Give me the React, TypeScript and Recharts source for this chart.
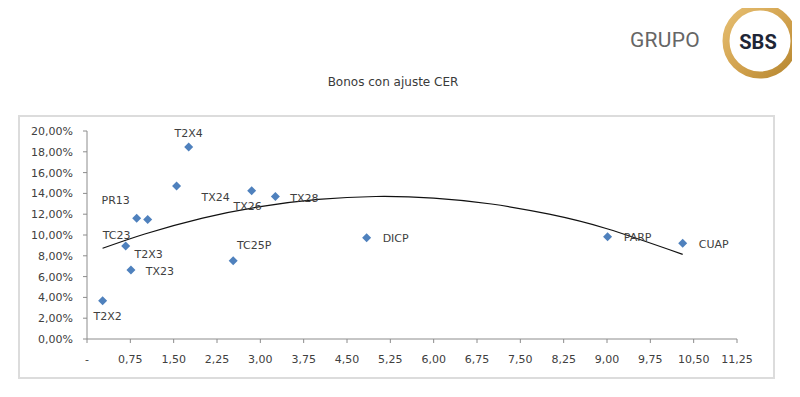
import { ComposedChart, Scatter, Line, XAxis, YAxis } from 'recharts'

// Bonos CER: duración (x) vs TIR % (y)
const bondNames = ['T2X2', 'T2X3', 'TX23', 'TC23', 'PR13', 'TX24', 'T2X4', 'TC25P', 'TX26', 'TX28', 'DICP', 'PARP', 'CUAP']
const duration = [0.27, 0.67, 0.76, 0.86, 1.05, 1.55, 1.76, 2.53, 2.85, 3.26, 4.84, 9.01, 10.31]
const yieldPct = [3.68, 8.94, 6.63, 11.6, 11.5, 14.7, 18.46, 7.53, 14.26, 13.7, 9.74, 9.84, 9.2]

// tendencia polinómica
const trendX = [0.27, 1, 2, 3, 4, 5, 6, 7, 8, 9, 10.31]
const trendY = [8.72, 10.1, 11.63, 12.73, 13.42, 13.7, 13.55, 12.98, 12.0, 10.6, 8.14]

const xTicks = [0, 0.75, 1.5, 2.25, 3, 3.75, 4.5, 5.25, 6, 6.75, 7.5, 8.25, 9, 9.75, 10.5, 11.25]
const yTicks = [0, 2, 4, 6, 8, 10, 12, 14, 16, 18, 20]

// label offsets relative to each marker (dx, dy)
const labelPos: Record<string, [number, number]> = {
  T2X2: [5, 16], T2X3: [23, 8], TX23: [29, 1], TC23: [-20, 17], PR13: [-32, -19],
  TX24: [39, 11], T2X4: [0, -14], TC25P: [21, -15], TX26: [-4, 16], TX28: [29, 2],
  DICP: [29, 1], PARP: [30, 1], CUAP: [31, 1],
}

const bonds = bondNames.map((name, i) => ({ name, x: duration[i], y: yieldPct[i] }))
const trend = trendX.map((x, i) => ({ x, y: trendY[i] }))

const FONT = '"DejaVu Sans", Verdana, sans-serif'
const fmtX = (v: number) => (v === 0 ? '-' : v.toFixed(2).replace('.', ','))
const fmtY = (v: number) => v.toFixed(2).replace('.', ',') + '%'

function Diamond(props: any) {
  const { cx, cy, payload } = props
  const r = 4.5
  const [dx, dy] = labelPos[payload.name] || [28, 0]
  return (
    <g>
      <polygon points={`${cx},${cy - r} ${cx + r},${cy} ${cx},${cy + r} ${cx - r},${cy}`} fill="#4F81BD" />
      <text x={cx + dx} y={cy + dy} textAnchor="middle" dominantBaseline="central" fontSize={11} fill="#404040" fontFamily={FONT}>
        {payload.name}
      </text>
    </g>
  )
}

export default function App() {
  return (
    <div style={{ position: 'relative', width: 800, height: 397, margin: -8, background: '#fff', overflow: 'hidden' }}>
      <div style={{ position: 'absolute', left: 0, top: 0, width: 800, height: 3, background: '#f1f1f1' }} />
      {/* logo */}
      <div style={{ position: 'absolute', left: 630, top: 28, fontFamily: 'Roboto, sans-serif', fontSize: 21, color: '#666', letterSpacing: 0.3 }}>GRUPO</div>
      <svg style={{ position: 'absolute', left: 716, top: 0 }} width={84} height={84}>
        <defs>
          <linearGradient id="gold" x1="0" y1="0" x2="1" y2="1">
            <stop offset="0%" stopColor="#E6BF72" />
            <stop offset="55%" stopColor="#D1A14D" />
            <stop offset="100%" stopColor="#B5862F" />
          </linearGradient>
        </defs>
        <circle cx={44} cy={41} r={34} fill="#fff" stroke="url(#gold)" strokeWidth={7} />
        <text x={42} y={42} textAnchor="middle" dominantBaseline="central" fontFamily="Roboto, sans-serif" fontWeight={700} fontSize={20} fill="#1E2636">SBS</text>
      </svg>
      <div style={{ position: 'absolute', left: 0, width: 786, top: 75, textAlign: 'center', fontFamily: FONT, fontSize: 12, color: '#3a3a3a' }}>Bonos con ajuste CER</div>
      {/* marco del gráfico */}
      <div style={{ position: 'absolute', left: 18, top: 115, width: 753, height: 260, border: '2px solid #dcdcdc' }} />
      <div style={{ position: 'absolute', left: 0, top: 0 }}>
        <ComposedChart width={800} height={397} margin={{ top: 131, right: 63, bottom: 28, left: 27 }}>
          <XAxis
            type="number"
            dataKey="x"
            domain={[0, 11.25]}
            ticks={xTicks}
            tickFormatter={fmtX}
            interval={0}
            height={30}
            tickSize={4}
            tickMargin={12}
            stroke="#8c8c8c"
            tick={{ fill: '#404040', fontSize: 11, fontFamily: FONT }}
            allowDataOverflow
          />
          <YAxis
            type="number"
            dataKey="y"
            domain={[0, 20]}
            ticks={yTicks}
            tickFormatter={fmtY}
            interval={0}
            width={60}
            tickSize={4}
            tickMargin={10}
            stroke="#8c8c8c"
            tick={{ fill: '#404040', fontSize: 11, fontFamily: FONT }}
          />
          <Scatter data={bonds} dataKey="y" shape={Diamond} isAnimationActive={false} />
          <Line
            data={trend}
            dataKey="y"
            type="natural"
            stroke="#111"
            strokeWidth={1.2}
            dot={false}
            activeDot={false}
            isAnimationActive={false}
          />
        </ComposedChart>
      </div>
    </div>
  )
}
